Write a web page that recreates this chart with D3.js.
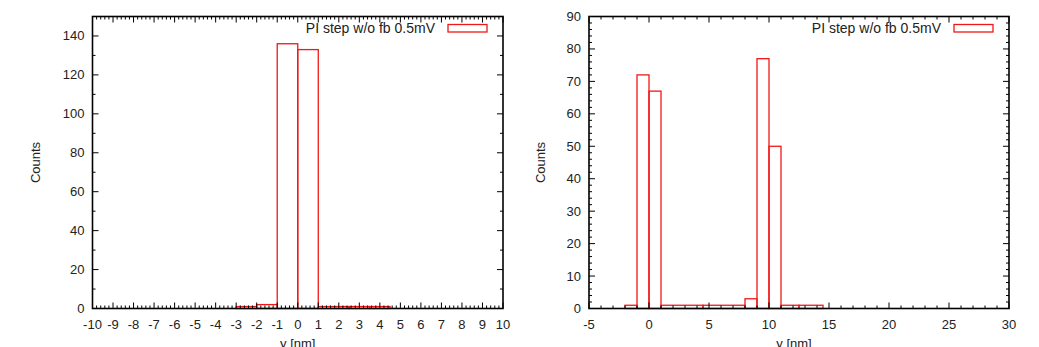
<!DOCTYPE html>
<html><head><meta charset="utf-8">
<script src="https://cdn.jsdelivr.net/npm/d3@7"></script>
<style>body{margin:0;background:#fff}svg{display:block}text{font-family:"Liberation Sans",Arial,sans-serif;fill:#222}</style>
</head><body><svg id="c" width="1039" height="347"></svg>
<script>
// Left panel data (bin start, bin end, count)
const leftX0 = [-3, -2, -1, 0, 1, 2.5, 3.5];
const leftX1 = [-2, -1, 0, 1, 2.5, 3.5, 4.5];
const leftCounts = [1, 2, 136, 133, 1, 1, 1];
// Right panel data
const rightX0 = [-2, -1, 0, 1, 4.5, 8, 9, 10, 11, 12.5];
const rightX1 = [-1, 0, 1, 4.5, 8, 9, 10, 11, 12.5, 14.5];
const rightCounts = [1, 72, 67, 1, 1, 3, 77, 50, 1, 1];
const leftXTicks = d3.range(-10, 11, 1);
const leftYTicks = d3.range(0, 141, 20);
const rightXTicks = d3.range(-5, 31, 5);
const rightYTicks = d3.range(0, 91, 10);
const legendLabel = "PI step w/o fb 0.5mV";
const xTitle = "y [nm]", yTitle = "Counts";

const svg = d3.select("#c");

function panel(o) {
  const g = svg.append("g");
  const x = d3.scaleLinear().domain(o.xDom).range([o.l, o.r]);
  const y = d3.scaleLinear().domain(o.yDom).range([o.b, o.t]);
  const bins = o.x0.map((v, i) => ({x0: v, x1: o.x1[i], c: o.counts[i]}));
  g.selectAll("rect.bar").data(bins).join("rect")
    .attr("x", d => x(d.x0)).attr("y", d => y(d.c))
    .attr("width", d => x(d.x1) - x(d.x0)).attr("height", d => y(0) - y(d.c))
    .attr("fill", "none").attr("stroke", "#f01818").attr("stroke-width", 1.3);
  const tk = g.append("g").attr("stroke", "#000").attr("stroke-width", 1);
  const minorX = d3.range(o.xDom[0], o.xDom[1] + 1e-9, o.xMinor);
  const minorY = d3.range(o.yDom[0], o.yDom[1] + 1e-9, o.yMinor);
  minorX.forEach(v => {
    const isMaj = o.xTicks.some(t => Math.abs(t - v) < 1e-6);
    const len = isMaj ? 6 : 3;
    tk.append("line").attr("x1", x(v)).attr("x2", x(v)).attr("y1", o.b).attr("y2", o.b - len);
    tk.append("line").attr("x1", x(v)).attr("x2", x(v)).attr("y1", o.t).attr("y2", o.t + len);
  });
  minorY.forEach(v => {
    const isMaj = o.yTicks.some(t => Math.abs(t - v) < 1e-6);
    const len = isMaj ? 6 : 3;
    tk.append("line").attr("y1", y(v)).attr("y2", y(v)).attr("x1", o.l).attr("x2", o.l + len);
    tk.append("line").attr("y1", y(v)).attr("y2", y(v)).attr("x1", o.r).attr("x2", o.r - len);
  });
  g.append("rect").attr("x", o.l).attr("y", o.t).attr("width", o.r - o.l).attr("height", o.b - o.t)
    .attr("fill", "none").attr("stroke", "#000").attr("stroke-width", 1.6);
  g.selectAll("text.xt").data(o.xTicks).join("text")
    .attr("x", d => x(d)).attr("y", o.b + 20).attr("text-anchor", "middle")
    .attr("font-size", 13).text(d => d);
  g.selectAll("text.yt").data(o.yTicks).join("text")
    .attr("x", o.l - 8).attr("y", d => y(d) + 4.5).attr("text-anchor", "end")
    .attr("font-size", 13).text(d => d);
  g.append("text").attr("x", (o.l + o.r) / 2 + o.xtOff).attr("y", 348).attr("text-anchor", "middle")
    .attr("font-size", 13).text(xTitle);
  g.append("text").attr("transform", `translate(${o.ytX},${(o.t + o.b) / 2}) rotate(-90)`)
    .attr("text-anchor", "middle").attr("font-size", 13).text(yTitle);
  g.append("text").attr("x", o.r - 68).attr("y", 32.5).attr("text-anchor", "end")
    .attr("font-size", 14).text(legendLabel);
  g.append("rect").attr("x", o.r - 55).attr("y", 24.5).attr("width", 39).attr("height", 7.5)
    .attr("fill", "none").attr("stroke", "#f01818").attr("stroke-width", 1.3);
}

panel({l: 92.5, r: 503, t: 16.5, b: 308.5, xDom: [-10, 10], yDom: [0, 150],
  x0: leftX0, x1: leftX1, counts: leftCounts, xTicks: leftXTicks, yTicks: leftYTicks,
  xMinor: 0.2, yMinor: 10, ytX: 40, xtOff: 0});
panel({l: 589, r: 1009, t: 16.5, b: 308.5, xDom: [-5, 30], yDom: [0, 90],
  x0: rightX0, x1: rightX1, counts: rightCounts, xTicks: rightXTicks, yTicks: rightYTicks,
  xMinor: 1, yMinor: 2, ytX: 545, xtOff: -5});
</script></body></html>
